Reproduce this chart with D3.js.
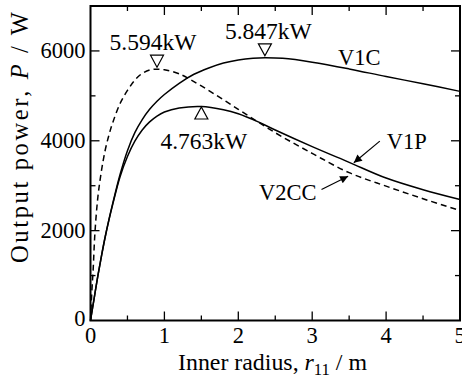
<!DOCTYPE html>
<html lang="en">
<head>
<meta charset="UTF-8">
<title>Output power vs inner radius</title>
<style>
  body { margin: 0; background: #fff; }
  svg text { font-family: "Liberation Serif", "DejaVu Serif", serif; fill: #000; }
</style>
</head>
<body>
<svg id="chart" width="462" height="384"></svg>
<script src="https://d3js.org/d3.v7.min.js"></script>
<script>
// values (r in m, P in W)
const v1cR = [0, 0.05, 0.1, 0.15, 0.2, 0.25, 0.3, 0.4, 0.5, 0.6, 0.7, 0.8, 0.9, 1.0, 1.2, 1.4, 1.6, 1.8, 2.0, 2.2, 2.36, 2.6, 3.0, 3.5, 4.0, 4.5, 5.0];
const v1cP = [0, 500, 1000, 1450, 1870, 2250, 2600, 3250, 3780, 4180, 4470, 4700, 4880, 5030, 5280, 5480, 5620, 5730, 5800, 5838, 5847, 5835, 5750, 5600, 5430, 5270, 5100];

const v1pR = [0, 0.05, 0.1, 0.15, 0.2, 0.25, 0.3, 0.4, 0.5, 0.6, 0.7, 0.8, 0.9, 1.0, 1.2, 1.5, 1.8, 2.0, 2.27, 2.5, 3.0, 3.5, 4.0, 4.5, 5.0];
const v1pP = [0, 500, 1000, 1450, 1870, 2240, 2580, 3200, 3650, 3990, 4240, 4420, 4550, 4640, 4730, 4763, 4690, 4600, 4420, 4240, 3870, 3520, 3170, 2910, 2692];

const v2ccR = [0, 0.02, 0.035, 0.06, 0.1, 0.15, 0.2, 0.25, 0.3, 0.4, 0.5, 0.6, 0.7, 0.8, 0.9, 1.0, 1.2, 1.5, 2.0, 2.5, 3.0, 3.5, 4.0, 4.5, 5.0];
const v2ccP = [0, 700, 1100, 1950, 2750, 3350, 3800, 4130, 4400, 4830, 5120, 5350, 5500, 5575, 5594, 5580, 5490, 5220, 4700, 4180, 3720, 3290, 2990, 2710, 2447];

const xTicks = [0, 1, 2, 3, 4, 5];
const yTicks = [0, 2000, 4000, 6000];

// peak markers: [r, P, label, direction]
const peaks = [
  [0.9, 5594, "5.594kW", "down"],
  [2.36, 5847, "5.847kW", "down"],
  [1.5, 4763, "4.763kW", "up"]
];
const peakLabelDx = [-4, 3.5, 2.5];

// curve names with arrows: [label, labelR, labelP, tailR, tailP, tipR, tipP]
const names = [
  ["V1C", 3.35, 5690, null, null, null, null],
  ["V1P", 4.01, 3820, 3.915, 3993, 3.563, 3511],
  ["V2CC", 2.28, 2680, 3.126, 2915, 3.486, 3212]
];

const W = 462, H = 384;
const m = { top: 6, right: 2, bottom: 63.5, left: 90.5 };
const svg = d3.select("#chart");

const x = d3.scaleLinear().domain([0, 5]).range([m.left, W - m.right]);
const y = d3.scaleLinear().domain([0, 7000]).range([H - m.bottom, m.top]);

const fs = 22.5;

// frame
svg.append("rect")
  .attr("x", x(0)).attr("y", y(7000))
  .attr("width", x(5) - x(0)).attr("height", y(0) - y(7000))
  .attr("fill", "none").attr("stroke", "#000").attr("stroke-width", 2);

// inward ticks on all four sides
const ticks = svg.append("g").attr("stroke", "#000").attr("stroke-width", 1.3);
d3.range(0.5, 5, 0.5).forEach(v => {
  const len = Number.isInteger(v) ? 9 : 5;
  ticks.append("line").attr("x1", x(v)).attr("x2", x(v)).attr("y1", y(0)).attr("y2", y(0) - len);
  ticks.append("line").attr("x1", x(v)).attr("x2", x(v)).attr("y1", y(7000)).attr("y2", y(7000) + len);
});
d3.range(1000, 7000, 1000).forEach(v => {
  const len = v % 2000 === 0 ? 9 : 5;
  ticks.append("line").attr("y1", y(v)).attr("y2", y(v)).attr("x1", x(0)).attr("x2", x(0) + len);
  ticks.append("line").attr("y1", y(v)).attr("y2", y(v)).attr("x1", x(5)).attr("x2", x(5) - len);
});

// tick labels
svg.append("g").selectAll("text").data(xTicks).join("text")
  .attr("x", d => x(d)).attr("y", y(0) + 22.5)
  .attr("text-anchor", "middle").attr("font-size", fs)
  .text(d => d);
svg.append("g").selectAll("text").data(yTicks).join("text")
  .attr("x", x(0) - 5).attr("y", d => y(d) + (d === 0 ? 5 : 7.5))
  .attr("text-anchor", "end").attr("font-size", fs)
  .text(d => d);

// axis titles
const xt = svg.append("text")
  .attr("x", 178).attr("y", 370)
  .attr("font-size", 23)
  .attr("textLength", 189).attr("lengthAdjust", "spacingAndGlyphs");
xt.append("tspan").text("Inner radius, ");
xt.append("tspan").attr("font-style", "italic").text("r");
xt.append("tspan").attr("font-size", 16).attr("dy", 5).text("11");
xt.append("tspan").attr("dy", -5).text(" / m");

const yt = svg.append("text")
  .attr("transform", "translate(28,263) rotate(-90)")
  .attr("font-size", 24.5)
  .attr("textLength", 251).attr("lengthAdjust", "spacing");
yt.append("tspan").text("Output power, ");
yt.append("tspan").attr("font-style", "italic").text("P");
yt.append("tspan").text(" / W");

// curves
const line = d3.line().x(d => x(d[0])).y(d => y(d[1])).curve(d3.curveCatmullRom.alpha(0.5));
const series = [
  [v1cR, v1cP, null],
  [v1pR, v1pP, null],
  [v2ccR, v2ccP, "6,4"]
];
series.forEach(([rs, ps, dash]) => {
  svg.append("path")
    .datum(d3.zip(rs, ps))
    .attr("d", line)
    .attr("fill", "none").attr("stroke", "#000").attr("stroke-width", 1.5)
    .attr("stroke-dasharray", dash);
});

// peak triangles and values
peaks.forEach(([r, p, label, dir], i) => {
  const px = x(r), py = y(p);
  let tri, ty;
  if (dir === "down") {
    const ay = py - 2;
    tri = [[px - 6.5, ay - 12], [px + 6.5, ay - 12], [px, ay]];
    ty = ay - 17;
  } else {
    tri = [[px - 6.5, py + 12.5], [px + 6.5, py + 12.5], [px, py + 0.5]];
    ty = py + 42;
  }
  svg.append("path")
    .attr("d", d3.line()(tri) + "Z")
    .attr("fill", "#fff").attr("stroke", "#000").attr("stroke-width", 1.2);
  svg.append("text")
    .attr("x", px + peakLabelDx[i]).attr("y", ty)
    .attr("text-anchor", "middle").attr("font-size", 23.5)
    .text(label);
});

// arrowhead
svg.append("defs").append("marker")
  .attr("id", "arr").attr("viewBox", "0 0 10 10")
  .attr("refX", 10).attr("refY", 5)
  .attr("markerWidth", 13).attr("markerHeight", 8)
  .attr("markerUnits", "userSpaceOnUse")
  .attr("orient", "auto")
  .append("path").attr("d", "M0,0 L10,5 L0,10 Z").attr("fill", "#000");

names.forEach(([label, lr, lp, tr, tp, hr, hp]) => {
  svg.append("text")
    .attr("x", x(lr)).attr("y", y(lp))
    .attr("font-size", fs)
    .text(label);
  if (tr !== null) {
    svg.append("line")
      .attr("x1", x(tr)).attr("y1", y(tp))
      .attr("x2", x(hr)).attr("y2", y(hp))
      .attr("stroke", "#000").attr("stroke-width", 1.2)
      .attr("marker-end", "url(#arr)");
  }
});
</script>
</body>
</html>
